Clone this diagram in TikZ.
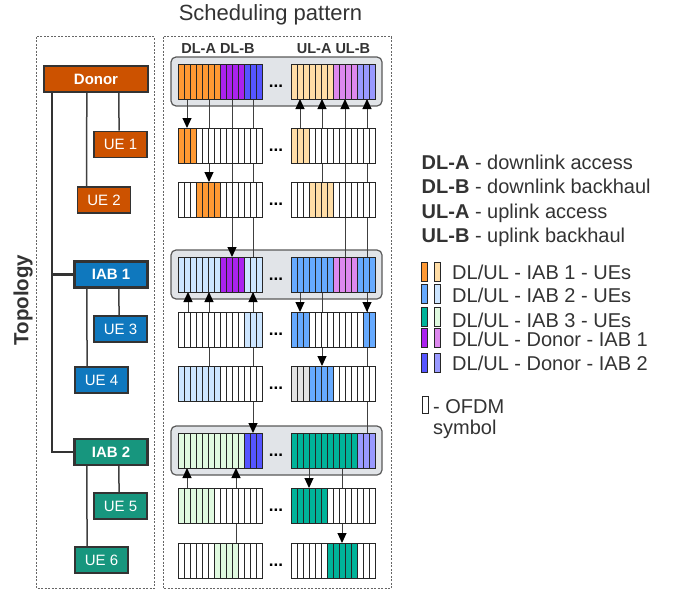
\documentclass[tikz,border=0pt]{standalone}
\usepackage{fontspec}
\setmainfont{Liberation Sans}
\usetikzlibrary{arrows.meta,positioning,fit,backgrounds}

\definecolor{txt}{HTML}{333333}
\definecolor{grpgrey}{HTML}{E1E4E8}
\definecolor{donorc}{HTML}{CC5200}
\definecolor{iaba}{HTML}{0F78BE}
\definecolor{iabb}{HTML}{17967E}
\definecolor{or}{HTML}{FF9933}
\definecolor{lo}{HTML}{FFDDA6}
\definecolor{pu}{HTML}{AA22EE}
\definecolor{lp}{HTML}{DD88EE}
\definecolor{bu}{HTML}{5555FF}
\definecolor{lb}{HTML}{9999FF}
\definecolor{sk}{HTML}{66AAFF}
\definecolor{ps}{HTML}{CCE5FF}
\definecolor{tl}{HTML}{00B39A}
\definecolor{lg}{HTML}{E0FAE0}
\definecolor{gy}{HTML}{E3E3E3}
\definecolor{wh}{HTML}{FFFFFF}

% one row of 14 OFDM symbols: name, x, y, colours
\newcommand{\slotbar}[4]{%
  \node[bar] (#1) at (#2,#3) {};
  \foreach \c [count=\i from 0] in {#4}
    \draw[slot, fill=\c] ([xshift=\i*6pt]#1.north west) rectangle ++(6,35);
}

\begin{document}
\begin{tikzpicture}[x=1pt, y=-1pt,
    panel/.style={draw=black!60, dash pattern=on 2pt off 1.5pt, line width=0.8pt},
    tbox/.style={draw=black!80, line width=1.8pt, text=white, minimum width=53pt, minimum height=26pt, inner sep=0pt, font=\fontsize{15}{17}\selectfont},
    hub/.style={tbox, line width=2.4pt, minimum width=73pt, font=\fontsize{15}{17}\selectfont\bfseries},
    trunk/.style={draw=black!80, line width=2.4pt},
    link/.style={draw=black!75, line width=1.5pt},
    bar/.style={anchor=north west, minimum width=84pt, minimum height=35pt, inner sep=0pt, outer sep=0pt},
    slot/.style={draw=black!85, line width=0.9pt},
    grp/.style={draw=black!65, fill=grpgrey, rounded corners=5pt, line width=1.2pt, inner xsep=7pt, inner ysep=7pt},
    arr/.style={draw=black!75, line width=1pt, -{Triangle[length=10pt, width=9pt, color=black]}},
    dots/.style={font=\fontsize{17}{19}\selectfont\bfseries, inner sep=0pt, anchor=base},
    hdr/.style={font=\fontsize{14.5}{17}\selectfont\bfseries, text=txt, inner sep=0pt, anchor=base},
    swatch/.style={draw=black!85, line width=1pt, minimum width=6pt, minimum height=19pt, inner sep=0pt},
    lgd/.style={font=\fontsize{20}{24}\selectfont, text=txt, inner sep=0pt, anchor=base west}
]
\useasboundingbox (0,0) rectangle (680,589);

% panels
\draw[panel] (36.5,36.5) rectangle (154,588.5);
\draw[panel] (163,36.5) rectangle (391,588.5);
\node[font=\fontsize{22}{25}\selectfont, text=txt, anchor=base] (title) at (270.5,20) {Scheduling pattern};
\node[rotate=90, font=\fontsize{20.5}{23}\selectfont\bfseries, text=txt] (topo) at (23,300) {Topology};

% topology
\node[hub, fill=donorc, minimum width=104pt] (donor) at (96,79) {Donor};
\node[tbox, fill=donorc] (ue1) at (120.5,144.5) {UE 1};
\node[tbox, fill=donorc] (ue2) at (104,200) {UE 2};
\node[hub, fill=iaba] (iab1) at (111,274.5) {IAB 1};
\node[tbox, fill=iaba] (ue3) at (120.5,329) {UE 3};
\node[tbox, fill=iaba] (ue4) at (101.5,380) {UE 4};
\node[hub, fill=iabb] (iab2) at (111,452) {IAB 2};
\node[tbox, fill=iabb] (ue5) at (120.5,506) {UE 5};
\node[tbox, fill=iabb] (ue6) at (101.5,560) {UE 6};

\draw[trunk] ([xshift=9pt]donor.south west) |- (iab1.west);
\draw[trunk] ([xshift=9pt]donor.south west) |- (iab2.west);
\draw[link] ([xshift=44pt]donor.south west) -- ([xshift=10pt]ue2.north west);
\draw[link] ([xshift=76pt]donor.south west) -- ([xshift=26pt]ue1.north west);
\draw[link] ([xshift=13.5pt]iab1.south west) -- ([xshift=13pt]ue4.north west);
\draw[link] ([xshift=45.5pt]iab1.south west) -- ([xshift=26pt]ue3.north west);
\draw[link] ([xshift=13.5pt]iab2.south west) -- ([xshift=13pt]ue6.north west);
\draw[link] ([xshift=45.5pt]iab2.south west) -- ([xshift=26pt]ue5.north west);

% scheduling pattern
\node[hdr] (hdl) at (218,53.5) {DL-A DL-B};
\node[hdr] (hul) at (333.5,53.5) {UL-A UL-B};

\slotbar{dl0}{178}{64}{or,or,or,or,or,or,or,pu,pu,pu,pu,bu,bu,bu}
\slotbar{ul0}{291}{64}{lo,lo,lo,lo,lo,lo,lo,lp,lp,lp,lp,lb,lb,lb}
\slotbar{dlue1}{178}{128}{or,or,or,wh,wh,wh,wh,wh,wh,wh,wh,wh,wh,wh}
\slotbar{ulue1}{291}{128}{lo,lo,lo,wh,wh,wh,wh,wh,wh,wh,wh,wh,wh,wh}
\slotbar{dlue2}{178}{182}{wh,wh,wh,or,or,or,or,wh,wh,wh,wh,wh,wh,wh}
\slotbar{ulue2}{291}{182}{wh,wh,wh,lo,lo,lo,lo,wh,wh,wh,wh,wh,wh,wh}
\slotbar{dliab1}{178}{257}{ps,ps,ps,ps,ps,ps,ps,pu,pu,pu,pu,ps,ps,ps}
\slotbar{uliab1}{291}{257}{sk,sk,sk,sk,sk,sk,sk,lp,lp,lp,lp,sk,sk,sk}
\slotbar{dlue3}{178}{312}{wh,wh,wh,wh,wh,wh,wh,wh,wh,wh,wh,ps,ps,ps}
\slotbar{ulue3}{291}{312}{sk,sk,sk,wh,wh,wh,wh,wh,wh,wh,wh,wh,sk,sk}
\slotbar{dlue4}{178}{366}{ps,ps,ps,ps,ps,ps,ps,wh,wh,wh,wh,wh,wh,wh}
\slotbar{ulue4}{291}{366}{gy,gy,gy,sk,sk,sk,sk,wh,wh,wh,wh,wh,wh,wh}
\slotbar{dliab2}{178}{433}{lg,lg,lg,lg,lg,lg,lg,lg,lg,lg,lg,bu,bu,bu}
\slotbar{uliab2}{291}{433}{tl,tl,tl,tl,tl,tl,tl,tl,tl,tl,tl,lb,lb,lb}
\slotbar{dlue5}{178}{488}{lg,lg,lg,lg,lg,lg,wh,wh,wh,wh,wh,wh,wh,wh}
\slotbar{ulue5}{291}{488}{tl,tl,tl,tl,tl,tl,wh,wh,wh,wh,wh,wh,wh,wh}
\slotbar{dlue6}{178}{543}{wh,wh,wh,wh,wh,wh,lg,lg,lg,lg,wh,wh,wh,wh}
\slotbar{ulue6}{291}{543}{wh,wh,wh,wh,wh,wh,tl,tl,tl,tl,tl,wh,wh,wh}

\foreach \t [count=\k] in {64,128,182,257,312,366,433,488,543}
  \node[dots] (gap\k) at (276,\t+23) {...};

\begin{scope}[on background layer]
  \node[grp, fit=(dl0)(ul0)] (g0) {};
  \node[grp, fit=(dliab1)(uliab1)] (g1) {};
  \node[grp, fit=(dliab2)(uliab2)] (g2) {};
  % downlink
  \draw[arr] ([xshift=9pt]dl0.south west) -- ([xshift=9pt]dlue1.north west);
  \draw[arr] ([xshift=31pt]dl0.south west) -- ([xshift=31pt]dlue2.north west);
  \draw[arr] ([xshift=54pt]dl0.south west) -- ([xshift=54pt]dliab1.north west);
  \draw[arr] ([xshift=75pt]dl0.south west) -- ([xshift=75pt]dliab2.north west);
  \draw[arr] ([xshift=10pt]dlue3.north west) -- ([xshift=10pt]dliab1.south west);
  \draw[arr] ([xshift=31pt]dlue4.north west) -- ([xshift=31pt]dliab1.south west);
  \draw[arr] ([xshift=75pt]dlue3.north west) -- ([xshift=75pt]dliab1.south west);
  \draw[arr] ([xshift=9pt]dlue5.north west) -- ([xshift=9pt]dliab2.south west);
  \draw[arr] ([xshift=58pt]dlue6.north west) -- ([xshift=58pt]dliab2.south west);
  % uplink
  \draw[arr] ([xshift=9pt]ulue1.north west) -- ([xshift=9pt]ul0.south west);
  \draw[arr] ([xshift=31pt]ulue2.north west) -- ([xshift=31pt]ul0.south west);
  \draw[arr] ([xshift=54pt]uliab1.north west) -- ([xshift=54pt]ul0.south west);
  \draw[arr] ([xshift=76pt]uliab2.north west) -- ([xshift=76pt]ul0.south west);
  \draw[arr] ([xshift=9pt]uliab1.south west) -- ([xshift=9pt]ulue3.north west);
  \draw[arr] ([xshift=31pt]uliab1.south west) -- ([xshift=31pt]ulue4.north west);
  \draw[arr] ([xshift=76pt]uliab1.south west) -- ([xshift=76pt]ulue3.north west);
  \draw[arr] ([xshift=18pt]uliab2.south west) -- ([xshift=18pt]ulue5.north west);
  \draw[arr] ([xshift=51pt]uliab2.south west) -- ([xshift=51pt]ulue6.north west);
\end{scope}

% legend
\node[lgd] (la) at (421.5,169) {\textbf{DL-A} - downlink access};
\node[lgd] (lb) at (421.5,193.5) {\textbf{DL-B} - downlink backhaul};
\node[lgd] (lc) at (421.5,218) {\textbf{UL-A} - uplink access};
\node[lgd] (ld) at (421.5,242.5) {\textbf{UL-B} - uplink backhaul};

\node[swatch, fill=or] (k1a) at (424,272) {};
\node[swatch, fill=lo] (k1b) at (437,272) {};
\node[swatch, fill=sk] (k2a) at (424,294) {};
\node[swatch, fill=ps] (k2b) at (437,294) {};
\node[swatch, fill=tl] (k3a) at (424,317) {};
\node[swatch, fill=lg] (k3b) at (437,317) {};
\node[swatch, fill=pu] (k4a) at (424,338) {};
\node[swatch, fill=lp] (k4b) at (437,338) {};
\node[swatch, fill=bu] (k5a) at (424,363) {};
\node[swatch, fill=lb] (k5b) at (437,363) {};
\node[lgd] (t1) at (452,279) {DL/UL - IAB 1 - UEs};
\node[lgd] (t2) at (452,302.5) {DL/UL - IAB 2 - UEs};
\node[lgd] (t3) at (452,327.5) {DL/UL - IAB 3 - UEs};
\node[lgd] (t4) at (452,346) {DL/UL - Donor - IAB 1};
\node[lgd] (t5) at (452,370.5) {DL/UL - Donor - IAB 2};

\node[swatch, fill=white, minimum height=17pt] (sym) at (425,404.5) {};
\node[lgd] (sym1) at (433,413) {- OFDM};
\node[lgd] (sym2) at (433,434.5) {symbol};
\end{tikzpicture}
\end{document}
